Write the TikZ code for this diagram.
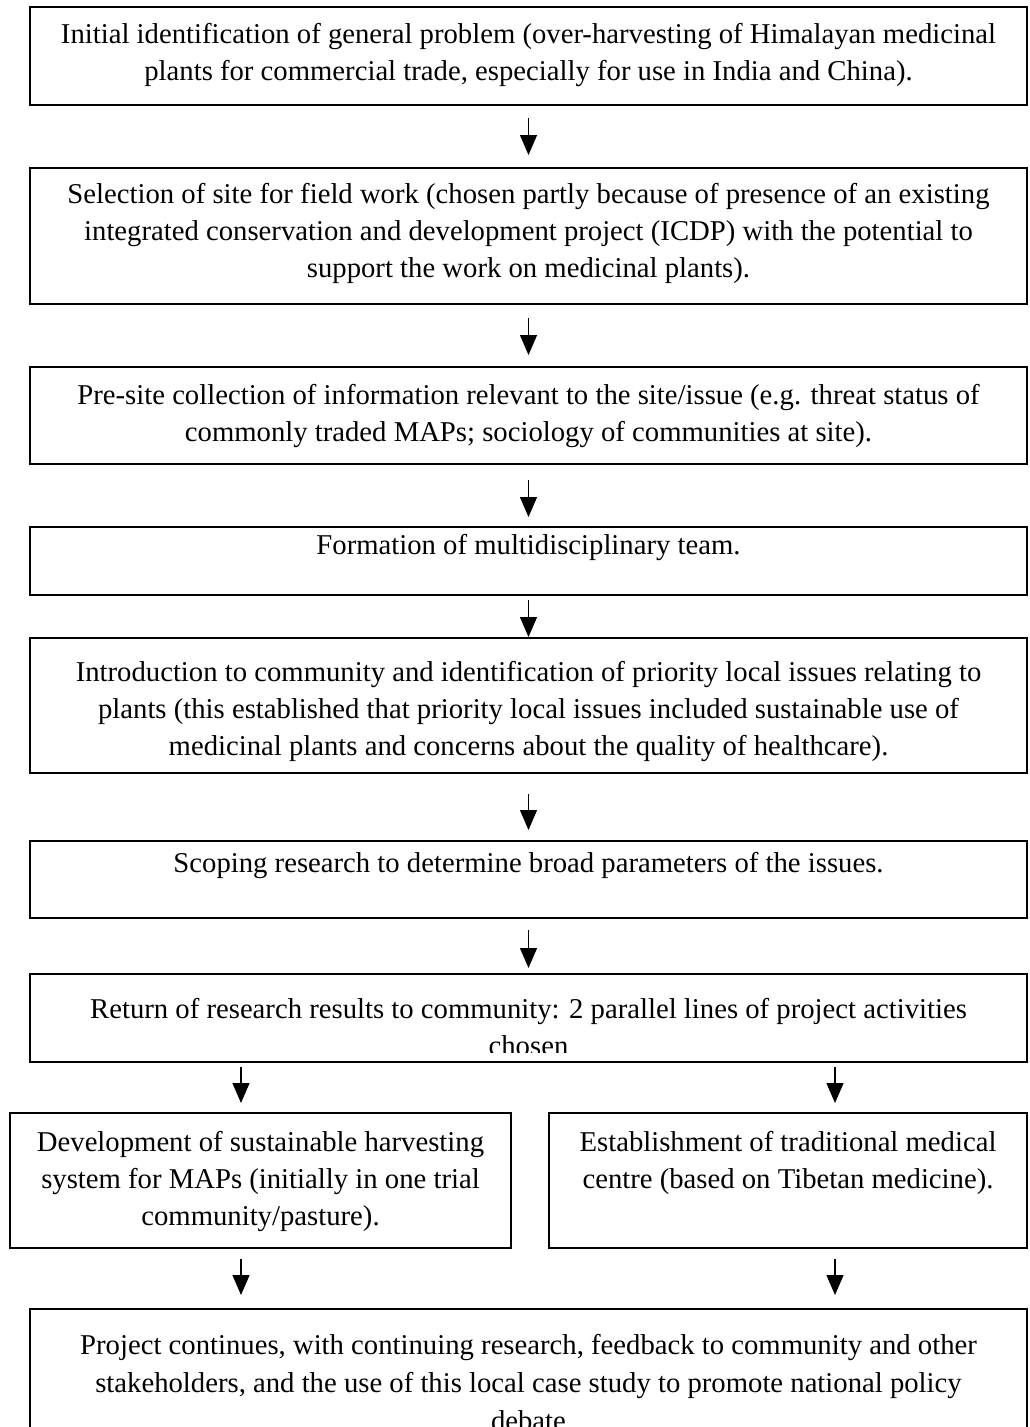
\documentclass[tikz,border=0pt]{standalone}
\usepackage{fontspec}
\setmainfont{Liberation Serif}
\usetikzlibrary{arrows.meta,calc}
\begin{document}
\begin{tikzpicture}[x=1pt,y=-1pt,
  box/.style={draw, line width=2pt, inner sep=0pt, anchor=north west},
  txt/.style={align=center, inner sep=0pt, anchor=base, font=\fontsize{28.7}{37}\selectfont},
  arr/.style={line width=1.2pt, -{Triangle[width=17pt,length=20pt]}}]
\clip (0,0) rectangle (1029,1427);
\fill[white] (0,0) rectangle (1029,1427);
% boxes
\node[box, minimum width=997pt, minimum height=98pt]  (b1) at (29,6) {};
\node[box, minimum width=997pt, minimum height=136pt] (b2) at (29,167) {};
\node[box, minimum width=997pt, minimum height=97pt]  (b3) at (29,366) {};
\node[box, minimum width=997pt, minimum height=68pt]  (b4) at (29,526) {};
\node[box, minimum width=997pt, minimum height=135pt] (b5) at (29,637) {};
\node[box, minimum width=997pt, minimum height=77pt]  (b6) at (29,840) {};
\node[box, minimum width=997pt, minimum height=88pt]  (b7) at (29,973) {};
\node[box, minimum width=501pt, minimum height=135pt] (b8l) at (9,1112) {};
\node[box, minimum width=478pt, minimum height=135pt] (b8r) at (548,1112) {};
\node[box, minimum width=997pt, minimum height=200pt] (b9) at (29,1308) {};
% texts (anchor base = baseline of last line)
\node[txt] (t1) at ($(b1.north)+(0,74)$) {Initial identification of general problem (over-harvesting of Himalayan medicinal\\plants for commercial trade, especially for use in India and China).};
\node[txt] (t2) at ($(b2.north)+(0,110)$) {Selection of site for field work (chosen partly because of presence of an existing\\integrated conservation and development project (ICDP) with the potential to\\support the work on medicinal plants).};
\node[txt] (t3) at ($(b3.north)+(0,75)$) {Pre-site collection of information relevant to the site/issue (e.g. threat status of\\commonly traded MAPs; sociology of communities at site).};
\node[txt] (t4) at ($(b4.north)+(0,28)$) {Formation of multidisciplinary team.};
\node[txt] (t5) at ($(b5.north)+(0,118)$) {Introduction to community and identification of priority local issues relating to\\plants (this established that priority local issues included sustainable use of\\medicinal plants and concerns about the quality of healthcare).};
\node[txt] (t6) at ($(b6.north)+(0,32)$) {Scoping research to determine broad parameters of the issues.};
\begin{scope}
\clip (b7.north west) rectangle ($(b7.south east)+(0,-11)$);
\node[txt] (t7) at ($(b7.north)+(0,82)$) {Return of research results to community: 2 parallel lines of project activities\\chosen};
\end{scope}
\node[txt] (t8l) at ($(b8l.north)+(0,113)$) {Development of sustainable harvesting\\system for MAPs (initially in one trial\\community/pasture).};
\node[txt] (t8r) at ($(b8r.north)+(0,76)$) {Establishment of traditional medical\\centre (based on Tibetan medicine).};
\node[txt, font=\fontsize{28.7}{38}\selectfont] (t9) at ($(b9.north)+(0,122)$) {Project continues, with continuing research, feedback to community and other\\stakeholders, and the use of this local case study to promote national policy\\debate};
% connectors
\coordinate (xl) at (241,0);
\coordinate (xr) at (835,0);
\draw[arr, shorten <=12pt, shorten >=12pt] (b1.south) -- (b2.north);
\draw[arr, shorten <=13pt, shorten >=11pt] (b2.south) -- (b3.north);
\draw[arr, shorten <=15pt, shorten >=9pt] (b3.south) -- (b4.north);
\draw[arr, shorten <=4pt, shorten >=0pt] (b4.south) -- (b5.north);
\draw[arr, shorten <=20pt, shorten >=10pt] (b5.south) -- (b6.north);
\draw[arr, shorten <=11pt, shorten >=5pt] (b6.south) -- (b7.north);
\draw[arr, shorten <=4pt, shorten >=9pt] (b7.south -| xl) -- (b8l.north -| xl);
\draw[arr, shorten <=4pt, shorten >=9pt] (b7.south -| xr) -- (b8r.north -| xr);
\draw[arr, shorten <=10pt, shorten >=13pt] (b8l.south -| xl) -- (b9.north -| xl);
\draw[arr, shorten <=10pt, shorten >=13pt] (b8r.south -| xr) -- (b9.north -| xr);
\end{tikzpicture}
\end{document}
